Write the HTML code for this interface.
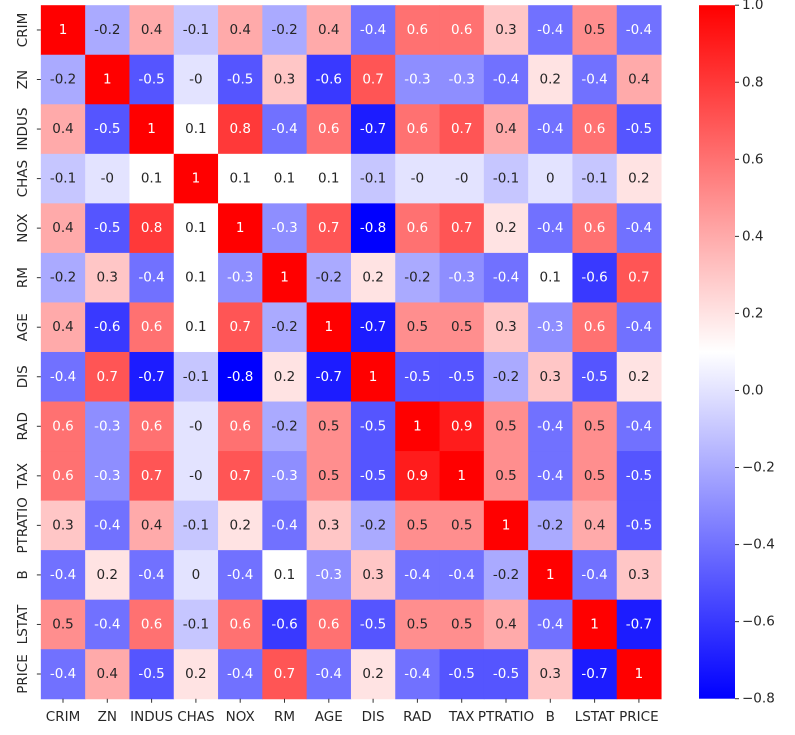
<!DOCTYPE html>
<html><head><meta charset="utf-8"><style>
html,body{margin:0;padding:0;background:#fff;}
svg{display:block;font-family:"DejaVu Sans","Liberation Sans",sans-serif;}
</style></head><body>
<svg id="chart" width="795" height="735" viewBox="0 0 795 735"></svg>
<script>
const labels = ["CRIM","ZN","INDUS","CHAS","NOX","RM","AGE","DIS","RAD","TAX","PTRATIO","B","LSTAT","PRICE"];
const row0 = [1,-0.2,0.4,-0.1,0.4,-0.2,0.4,-0.4,0.6,0.6,0.3,-0.4,0.5,-0.4];
const row1 = [-0.2,1,-0.5,-0,-0.5,0.3,-0.6,0.7,-0.3,-0.3,-0.4,0.2,-0.4,0.4];
const row2 = [0.4,-0.5,1,0.1,0.8,-0.4,0.6,-0.7,0.6,0.7,0.4,-0.4,0.6,-0.5];
const row3 = [-0.1,-0,0.1,1,0.1,0.1,0.1,-0.1,-0,-0,-0.1,0,-0.1,0.2];
const row4 = [0.4,-0.5,0.8,0.1,1,-0.3,0.7,-0.8,0.6,0.7,0.2,-0.4,0.6,-0.4];
const row5 = [-0.2,0.3,-0.4,0.1,-0.3,1,-0.2,0.2,-0.2,-0.3,-0.4,0.1,-0.6,0.7];
const row6 = [0.4,-0.6,0.6,0.1,0.7,-0.2,1,-0.7,0.5,0.5,0.3,-0.3,0.6,-0.4];
const row7 = [-0.4,0.7,-0.7,-0.1,-0.8,0.2,-0.7,1,-0.5,-0.5,-0.2,0.3,-0.5,0.2];
const row8 = [0.6,-0.3,0.6,-0,0.6,-0.2,0.5,-0.5,1,0.9,0.5,-0.4,0.5,-0.4];
const row9 = [0.6,-0.3,0.7,-0,0.7,-0.3,0.5,-0.5,0.9,1,0.5,-0.4,0.5,-0.5];
const row10 = [0.3,-0.4,0.4,-0.1,0.2,-0.4,0.3,-0.2,0.5,0.5,1,-0.2,0.4,-0.5];
const row11 = [-0.4,0.2,-0.4,0,-0.4,0.1,-0.3,0.3,-0.4,-0.4,-0.2,1,-0.4,0.3];
const row12 = [0.5,-0.4,0.6,-0.1,0.6,-0.6,0.6,-0.5,0.5,0.5,0.4,-0.4,1,-0.7];
const row13 = [-0.4,0.4,-0.5,0.2,-0.4,0.7,-0.4,0.2,-0.4,-0.5,-0.5,0.3,-0.7,1];
const matrix = [row0,row1,row2,row3,row4,row5,row6,row7,row8,row9,row10,row11,row12,row13];
const cbTicks = [-0.8,-0.6,-0.4,-0.2,0.0,0.2,0.4,0.6,0.8,1.0];
const vmin = -0.8, vmax = 1.0;

const NS = "http://www.w3.org/2000/svg";
const svg = document.getElementById("chart");
const L = 40.85, T = 5.2, CW = 44.3, CH = 49.54, N = labels.length;
const xPos = i => L + i*CW;
const yPos = i => T + i*CH;
function mk(tag, attrs, parent){const e=document.createElementNS(NS,tag);for(const k in attrs)e.setAttribute(k,attrs[k]);(parent||svg).appendChild(e);return e;}
function rgb(v){
  let t=(v-vmin)/(vmax-vmin); t=Math.max(0,Math.min(1,t));
  let r,g,b;
  if(t<0.5){r=2*t;g=2*t;b=1;}else{r=1;g=2*(1-t);b=2*(1-t);}
  return [r,g,b];
}
function css(c){return "rgb("+c.map(x=>Math.round(x*255)).join(",")+")";}
function lum(c){const l=c.map(x=>x<=0.03928?x/12.92:Math.pow((x+0.055)/1.055,2.4));return 0.2126*l[0]+0.7152*l[1]+0.0722*l[2];}
function fmt(v){return Object.is(v,-0)?"-0":String(v);}

const g = mk("g",{});


for(let r=0;r<N;r++){for(let c=0;c<N;c++){
  const v=matrix[r][c], col=rgb(v);
  const rect=mk("rect",{x:xPos(c),y:yPos(r),width:CW+0.5,height:CH+0.5,fill:css(col)},g);
  
  
}}
for(let r=0;r<N;r++){for(let c=0;c<N;c++){
  const v=matrix[r][c], col=rgb(v);
  const t=mk("text",{x:xPos(c)+CW/2,y:yPos(r)+CH/2,"text-anchor":"middle","dominant-baseline":"central","font-size":"13.5",fill:lum(col)>0.408?"#262626":"#ffffff"});
  t.textContent=fmt(v);
  
  
}}
for(let i=0;i<N;i++){
  mk("line",{x1:xPos(i)+CW/2,x2:xPos(i)+CW/2,y1:T+N*CH,y2:T+N*CH+4,stroke:"#333","stroke-width":1});
  const tx=mk("text",{x:xPos(i)+CW/2,y:T+N*CH+22,"text-anchor":"middle","font-size":"13.5",fill:"#262626"});
  tx.textContent=labels[i];
  
  
  mk("line",{x1:L-4,x2:L,y1:yPos(i)+CH/2,y2:yPos(i)+CH/2,stroke:"#333","stroke-width":1});
  const cy=yPos(i)+CH/2;
  const ty=mk("text",{x:27,y:cy,"text-anchor":"middle","font-size":"13.5",fill:"#262626",transform:"rotate(-90 27 "+cy+")"});
  ty.textContent=labels[i];
  
  
}
// colorbar
const CBX=699, CBW=36, CBT=5.2, CBB=698.7;
const cy = v => CBB - (v-vmin)/(vmax-vmin)*(CBB-CBT);
const defs=mk("defs",{});
const grad=mk("linearGradient",{id:"cbg",x1:0,y1:1,x2:0,y2:0},defs);
mk("stop",{offset:"0",  "stop-color":"rgb(0,0,255)"},grad);
mk("stop",{offset:"0.5","stop-color":"rgb(255,255,255)"},grad);
mk("stop",{offset:"1",  "stop-color":"rgb(255,0,0)"},grad);
const cb=mk("rect",{x:CBX,y:CBT,width:CBW,height:CBB-CBT,fill:"url(#cbg)"});


for(const v of cbTicks){
  const y=cy(v);
  mk("line",{x1:CBX+CBW,x2:CBX+CBW+4,y1:y,y2:y,stroke:"#333","stroke-width":1});
  const t=mk("text",{x:CBX+CBW+7,y:y,"dominant-baseline":"central","font-size":"13.5",fill:"#262626"});
  t.textContent=(v<0?"\u22120":"0")+"."+String(Math.round(Math.abs(v)*10)%10);
  if(v===1) t.textContent="1.0";
  
  
}
</script>
</body></html>
